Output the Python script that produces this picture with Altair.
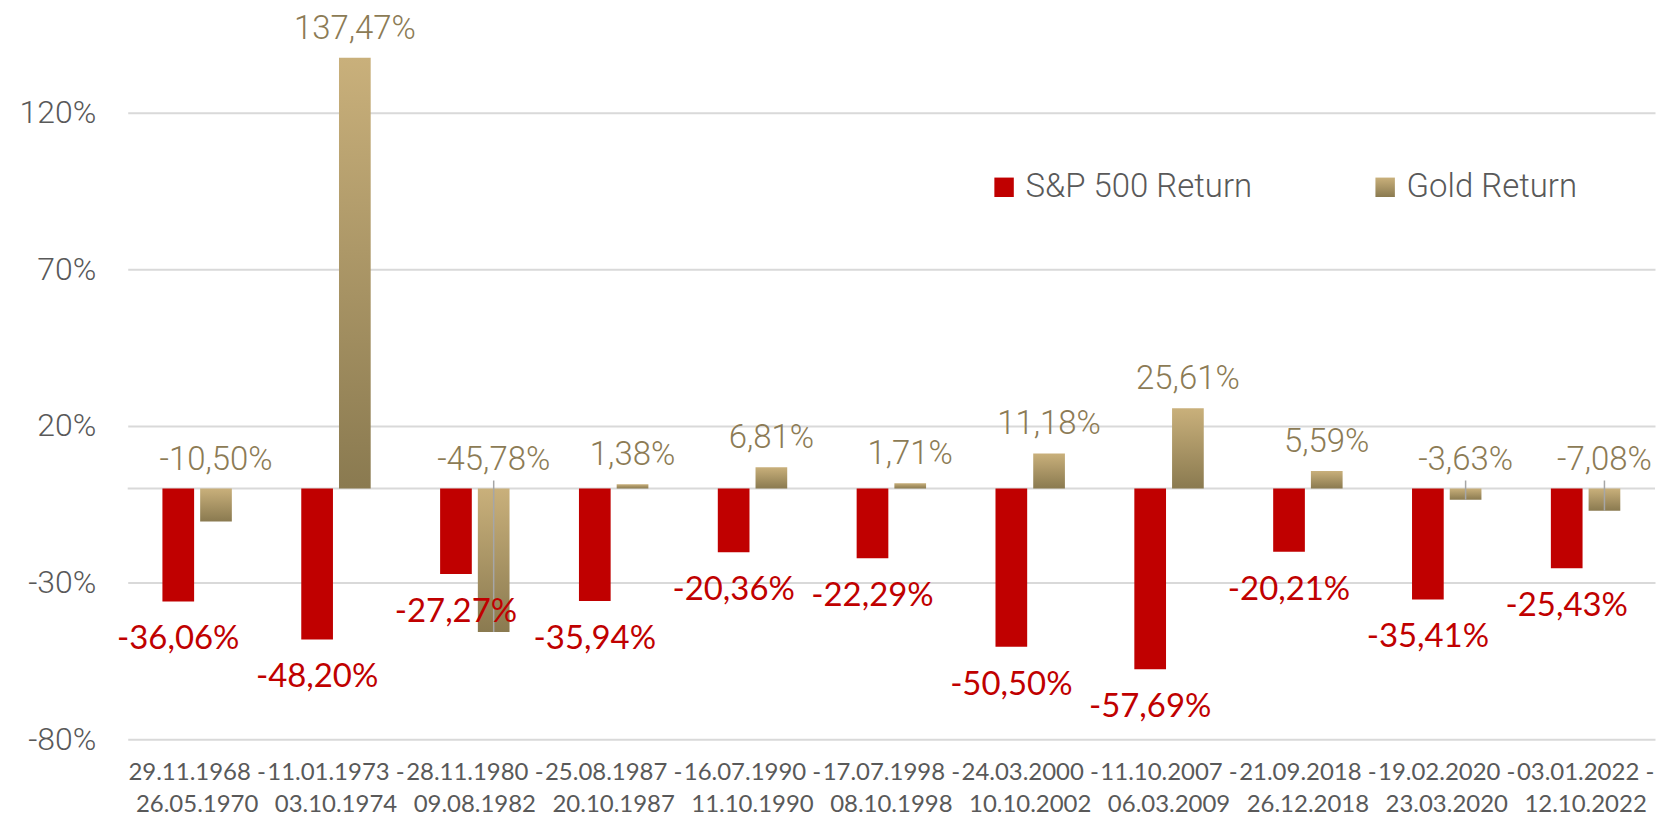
import altair as alt
import pandas as pd

periods = [
    "29.11.1968 - 26.05.1970", "11.01.1973 - 03.10.1974", "28.11.1980 - 09.08.1982",
    "25.08.1987 - 20.10.1987", "16.07.1990 - 11.10.1990", "17.07.1998 - 08.10.1998",
    "24.03.2000 - 10.10.2002", "11.10.2007 - 06.03.2009", "21.09.2018 - 26.12.2018",
    "19.02.2020 - 23.03.2020", "03.01.2022 - 12.10.2022",
]
sp500 = [-36.06, -48.20, -27.27, -35.94, -20.36, -22.29, -50.50, -57.69, -20.21, -35.41, -25.43]
gold = [-10.50, 137.47, -45.78, 1.38, 6.81, 1.71, 11.18, 25.61, 5.59, -3.63, -7.08]
gold_leader = [False, False, True, False, False, False, False, False, False, True, True]
series = ["S&P 500 Return", "Gold Return"]
y_ticks = [-80, -30, 20, 70, 120]

rows = []
for i, p in enumerate(periods):
    rows.append({"period": p, "series": series[0], "value": sp500[i], "leader": False})
    rows.append({"period": p, "series": series[1], "value": gold[i], "leader": gold_leader[i]})
df = pd.DataFrame(rows)
df["label"] = df["value"].map(lambda v: f"{v:.2f}".replace(".", ",") + "%")

RED = "#C00000"
GOLD_TXT = "#8C7B55"
GRAY = "#595959"
GRID = "#D9D9D9"

gradient_expr = ("{gradient: 'linear', x1: 0, y1: 0, x2: 0, y2: 1, "
                 "stops: [{offset: 0, color: '#C9B07B'}, {offset: 1, color: '#8A7A50'}]}")

x_axis = alt.Axis(
    title=None, labelAngle=0, ticks=False, domain=False, grid=False,
    labelFont="Lato", labelFontSize=24, labelColor=GRAY, labelLineHeight=32,
    labelPadding=21, labelLimit=0,
    labelExpr="[substring(datum.label, 0, 12), substring(datum.label, 13)]",
)
y_axis = alt.Axis(
    title=None, values=y_ticks, labelExpr="datum.value + '%'",
    grid=True, gridColor=GRID, gridWidth=2, domain=False, ticks=False,
    labelPadding=32, labelFont="Roboto", labelFontWeight=300, labelFontSize=32,
    labelColor=GRAY,
)
y_scale = alt.Scale(domain=[-80, 153], nice=False, zero=False)

x_enc = alt.X("period:N", sort=periods,
              scale=alt.Scale(paddingInner=0.5, paddingOuter=0.25), axis=x_axis)
xoff = alt.XOffset("series:N", sort=series, scale=alt.Scale(paddingInner=0.16))

base = alt.Chart(df)

zero_line = alt.Chart(pd.DataFrame({"zero": [0]})).mark_rule(
    color=GRID, strokeWidth=2
).encode(y=alt.Y("zero:Q", scale=y_scale, axis=y_axis))

bars = base.mark_bar().encode(
    x=x_enc,
    xOffset=xoff,
    y=alt.Y("value:Q", scale=y_scale, axis=y_axis),
    color=alt.Color(
        "series:N",
        scale=alt.Scale(domain=series, range=[RED, alt.ExprRef(gradient_expr)]),
        legend=alt.Legend(
            orient="none", legendX=862, legendY=162, direction="horizontal",
            title=None, symbolType="square", symbolSize=380, symbolStrokeWidth=0,
            labelFont="Roboto", labelFontWeight=300, labelFontSize=33,
            labelColor=GRAY, labelOffset=5, columnPadding=116, labelLimit=0,
        ),
    ),
)

leaders = base.transform_filter("datum.leader").mark_rule(
    color="#A6A6A6", strokeWidth=1.5, y2Offset=-8
).encode(
    x=x_enc, xOffset=xoff,
    y=alt.Y("value:Q", scale=y_scale, axis=y_axis),
    y2=alt.datum(0),
)

red_text = base.transform_filter(alt.datum.series == series[0]).mark_text(
    font="Lato", fontSize=33, color=RED, baseline="middle", dy=38
).encode(
    x=x_enc, xOffset=xoff,
    y=alt.Y("value:Q", scale=y_scale, axis=y_axis),
    text="label:N",
)

gold_text = base.transform_filter(alt.datum.series == series[1]).transform_calculate(
    ly="max(datum.value, 0)"
).mark_text(
    font="Roboto", fontWeight=300, fontSize=33, color=GOLD_TXT, baseline="middle", dy=-29
).encode(
    x=x_enc, xOffset=xoff,
    y=alt.Y("ly:Q", scale=y_scale, axis=y_axis),
    text="label:N",
)

chart = alt.layer(zero_line, bars, leaders, red_text, gold_text).properties(
    width=1531, height=732,
    padding={"left": 11, "top": 0, "right": 0, "bottom": 0},
    background="white",
).configure_view(stroke=None)

chart.save("out.html", embed_options={"renderer": "svg", "actions": False})
